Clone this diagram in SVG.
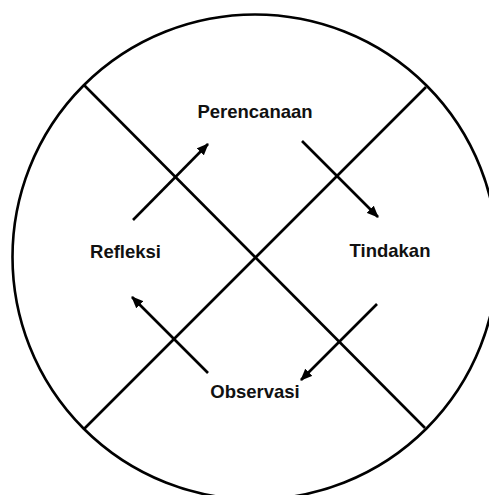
<svg xmlns="http://www.w3.org/2000/svg" width="489" height="495" viewBox="0 0 489 495">
<defs>
<marker id="ah" markerUnits="userSpaceOnUse" markerWidth="12" markerHeight="10" refX="11" refY="5" orient="auto">
<path d="M0,0 L12,5 L0,10 Z" fill="#000"/>
</marker>
<style>
.ln{stroke:#000;stroke-width:2.6;fill:none}
.ar{stroke:#000;stroke-width:2.6;fill:none;marker-end:url(#ah)}
.lb{font-family:"Liberation Sans",Arial,sans-serif;font-weight:bold;font-size:18.5px;fill:#111;text-anchor:middle}
</style>
</defs>
<rect width="489" height="495" fill="#fff"/>
<g id="frame">
<circle class="ln" cx="255" cy="257" r="242.5"/>
<line class="ln" x1="84" y1="85" x2="425" y2="428"/>
<line class="ln" x1="426" y1="87" x2="84" y2="429"/>
</g>
<g id="connectors">
<line class="ar" x1="133" y1="220" x2="208" y2="144"/>
<line class="ar" x1="302" y1="141" x2="378" y2="217"/>
<line class="ar" x1="377" y1="304" x2="301" y2="380"/>
<line class="ar" x1="208" y1="373" x2="132" y2="297"/>
</g>
<g id="perencanaan"><text class="lb" x="255" y="118">Perencanaan</text></g>
<g id="tindakan"><text class="lb" x="390" y="257">Tindakan</text></g>
<g id="observasi"><text class="lb" x="255" y="398">Observasi</text></g>
<g id="refleksi"><text class="lb" x="125.5" y="258">Refleksi</text></g>
</svg>
